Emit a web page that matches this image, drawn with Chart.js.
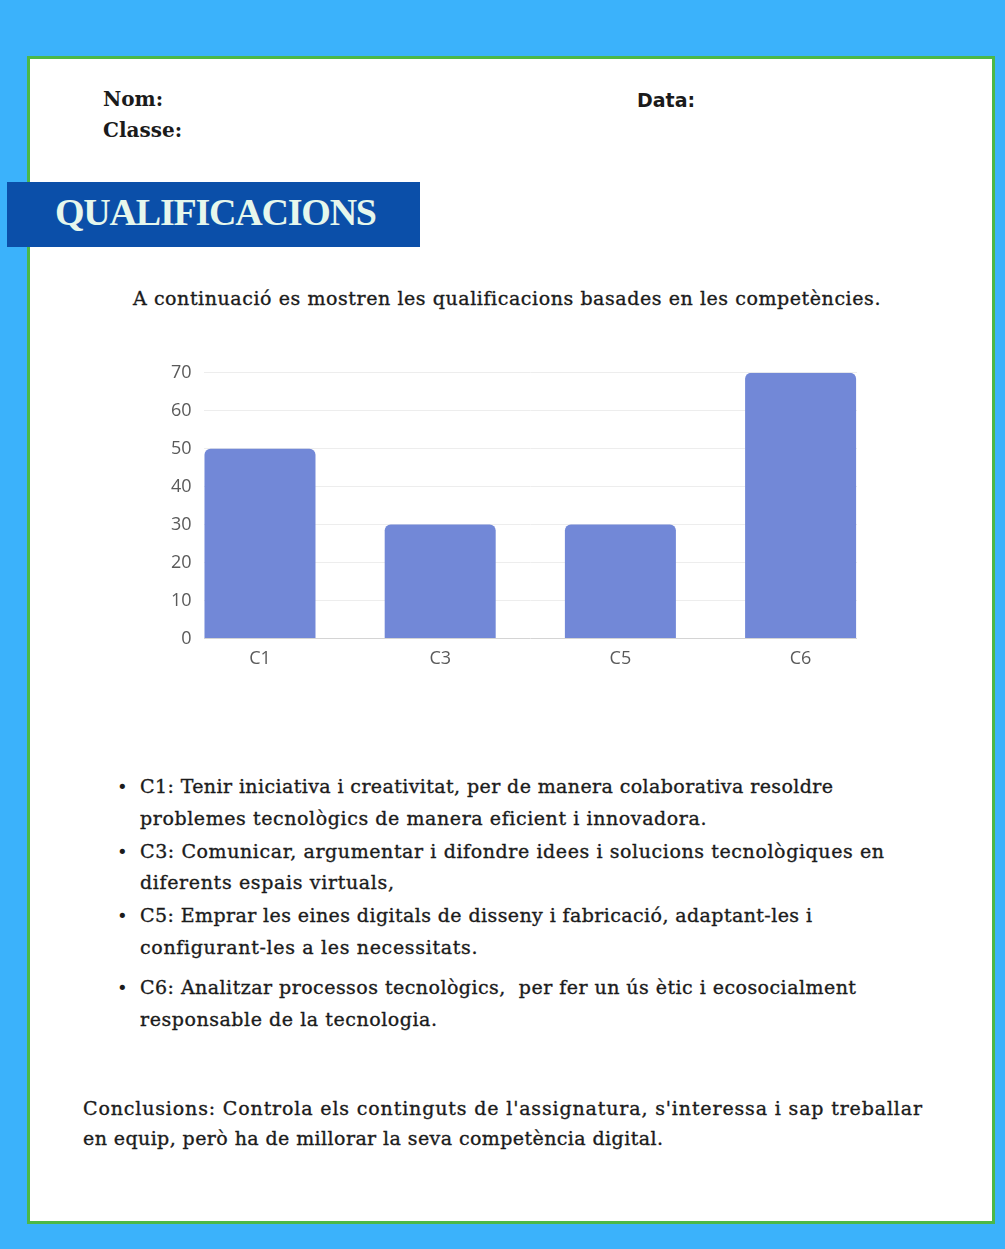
<!DOCTYPE html>
<html>
<head>
<meta charset="utf-8">
<script src="https://cdn.jsdelivr.net/npm/chart.js@4/dist/chart.umd.min.js"></script>
<style>
  html, body { margin:0; padding:0; }
  body { width:1005px; height:1249px; background:#3bb2fb; position:relative; overflow:hidden; }
  #panel { position:absolute; left:27px; top:56px; width:962px; height:1162px; background:#ffffff; border:3px solid #4cb847; }
  .t { position:absolute; white-space:pre; color:#1b1b1b; }
  .serif { font-family:"DejaVu Serif", serif; -webkit-text-stroke:0.35px #1b1b1b; }
  #banner { position:absolute; left:7px; top:182px; width:413px; height:65px; background:#0b4fa9; }
  #bannerText { position:absolute; left:55px; top:190px; font-family:"Liberation Serif", serif; font-weight:bold; font-size:38px; color:#e6f7ec; white-space:pre; }
  #chartBox { position:absolute; left:140px; top:350px; width:730px; height:334px; }
  .bul { position:absolute; left:117px; font-size:18px; color:#1b1b1b; font-family:"DejaVu Sans", sans-serif; }
</style>
</head>
<body>
<div id="panel"></div>
<div class="t" style="left:103px;top:87px;font-size:20px;font-weight:bold;font-family:'DejaVu Serif',serif;">Nom:</div>
<div class="t" style="left:103px;top:118px;font-size:20px;font-weight:bold;font-family:'DejaVu Serif',serif;">Classe:</div>
<div class="t" style="left:637px;top:89px;font-size:19px;font-weight:bold;font-family:'DejaVu Sans',sans-serif;">Data:</div>
<div id="banner"></div>
<div id="bannerText" data-w="322">QUALIFICACIONS</div>
<div class="t serif fit" data-w="747" style="left:133px;top:287px;font-size:19px;">A continuació es mostren les qualificacions basades en les competències.</div>

<div id="chartBox"><canvas id="c" width="730" height="334"></canvas></div>

<div class="bul" style="top:776px;">•</div>
<div class="t serif fit" data-w="693" style="left:140px;top:775px;font-size:19px;">C1: Tenir iniciativa i creativitat, per de manera colaborativa resoldre</div>
<div class="t serif fit" data-w="566" style="left:140px;top:807px;font-size:19px;">problemes tecnològics de manera eficient i innovadora.</div>
<div class="bul" style="top:841px;">•</div>
<div class="t serif fit" data-w="744" style="left:140px;top:840px;font-size:19px;">C3: Comunicar, argumentar i difondre idees i solucions tecnològiques en</div>
<div class="t serif fit" data-w="254" style="left:140px;top:871px;font-size:19px;">diferents espais virtuals,</div>
<div class="bul" style="top:905px;">•</div>
<div class="t serif fit" data-w="672" style="left:140px;top:904px;font-size:19px;">C5: Emprar les eines digitals de disseny i fabricació, adaptant-les i</div>
<div class="t serif fit" data-w="337" style="left:140px;top:936px;font-size:19px;">configurant-les a les necessitats.</div>
<div class="bul" style="top:977px;">•</div>
<div class="t serif fit" data-w="716" style="left:140px;top:976px;font-size:19px;">C6: Analitzar processos tecnològics,  per fer un ús ètic i ecosocialment</div>
<div class="t serif fit" data-w="297" style="left:140px;top:1008px;font-size:19px;">responsable de la tecnologia.</div>

<div class="t serif fit" data-w="839" style="left:83px;top:1097px;font-size:19px;">Conclusions: Controla els continguts de l'assignatura, s'interessa i sap treballar</div>
<div class="t serif fit" data-w="580" style="left:83px;top:1127px;font-size:19px;">en equip, però ha de millorar la seva competència digital.</div>

<script>
// ---- data ----
const categories = ["C1", "C3", "C5", "C6"];
const scores = [50, 30, 30, 70];
const yTicks = [0, 10, 20, 30, 40, 50, 60, 70];

// fit text lines to measured widths via letter-spacing
document.querySelectorAll('.fit, #bannerText').forEach(el => {
  const target = parseFloat(el.dataset.w);
  const n = el.textContent.length;
  const w = el.getBoundingClientRect().width;
  if (n > 1) el.style.letterSpacing = ((target - w) / (n - 1)) + 'px';
});

const ctx = document.getElementById('c').getContext('2d');
new Chart(ctx, {
  type: 'bar',
  data: {
    datasets: [{
      data: scores.map((v, i) => ({ x: i, y: v })),
      backgroundColor: '#7288d7',
      borderWidth: 0,
      borderRadius: { topLeft: 6, topRight: 6, bottomLeft: 0, bottomRight: 0 },
      borderSkipped: 'start',
      barPercentage: 0.616,
      categoryPercentage: 1.0
    }]
  },
  options: {
    responsive: false,
    animation: false,
    layout: { padding: { left: 19, right: 13, top: 10, bottom: 4 } },
    plugins: { legend: { display: false }, tooltip: { enabled: false } },
    scales: {
      x: {
        type: 'linear',
        offset: false,
        min: -0.313,
        max: categories.length - 1 + 0.313,
        afterBuildTicks: axis => { axis.ticks = categories.map((c, i) => ({ value: i })); },
        grid: { display: false, drawTicks: false, offset: false },
        border: { display: false },
        ticks: {
          color: '#5a5a5a', font: { family: 'Open Sans', size: 18 }, padding: 10,
          callback: v => categories[v]
        }
      },
      y: {
        min: yTicks[0],
        max: yTicks[yTicks.length - 1],
        afterBuildTicks: axis => { axis.ticks = yTicks.map(v => ({ value: v })); },
        grid: {
          color: ctx => ctx.tick && ctx.tick.value === 0 ? '#d4d4d4' : '#ededed',
          drawTicks: false
        },
        border: { display: false },
        ticks: { color: '#5a5a5a', font: { family: 'Open Sans', size: 18 }, padding: 12 }
      }
    }
  }
});
</script>
</body>
</html>
